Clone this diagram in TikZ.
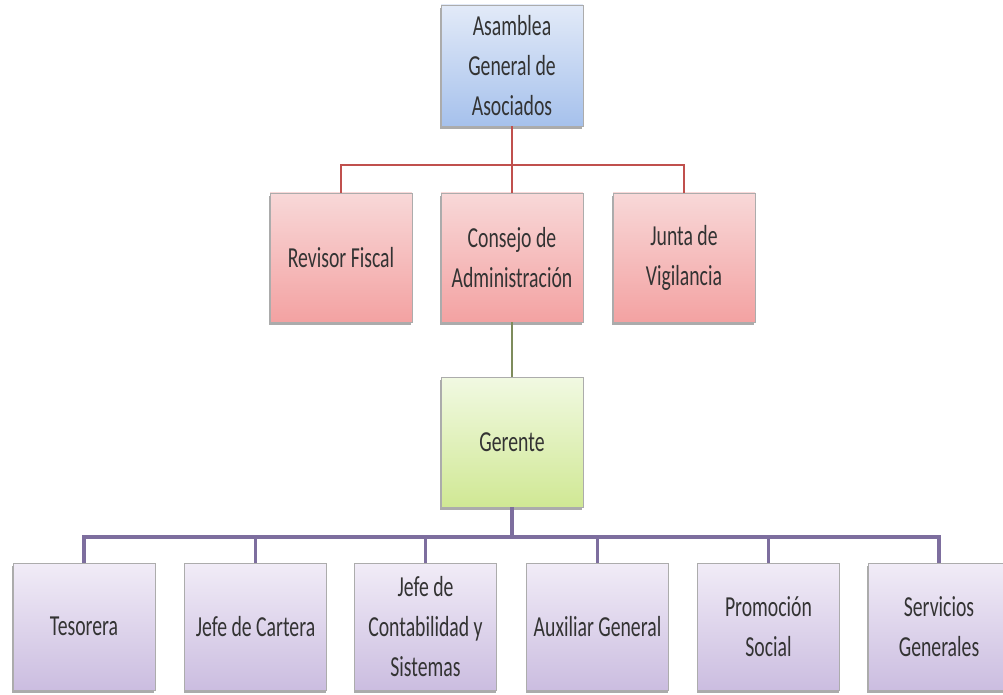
\documentclass[tikz,border=0pt]{standalone}
\usepackage{fontspec}
\setmainfont{Carlito}
\usetikzlibrary{shadows}
\definecolor{azulA}{HTML}{E2EAF8}
\definecolor{azulB}{HTML}{A6C1EC}
\definecolor{rojoA}{HTML}{F8D8D8}
\definecolor{rojoB}{HTML}{F3A2A2}
\definecolor{verdeA}{HTML}{F1F9E2}
\definecolor{verdeB}{HTML}{D0E894}
\definecolor{moradoA}{HTML}{F1ECF7}
\definecolor{moradoB}{HTML}{CBBDE0}
\definecolor{lrojo}{HTML}{C0504D}
\definecolor{lverde}{HTML}{7E8C5C}
\definecolor{lmorado}{HTML}{7D6E9E}
\tikzset{
  box/.style={draw=gray!65,line width=0.6pt,xscale=0.68,transform shape,
    minimum width=156.6pt,inner sep=0pt,align=center,text=black!80,
    font=\fontsize{21.75}{30}\selectfont,
    drop shadow={shadow xshift=-0.6pt,shadow yshift=-2.4pt,fill=black!55,opacity=0.6}},
  azul/.style={box,top color=azulA,bottom color=azulB,minimum height=90.75pt},
  rojo/.style={box,top color=rojoA,bottom color=rojoB,minimum height=96.75pt},
  verde/.style={box,top color=verdeA,bottom color=verdeB,minimum height=97.5pt},
  morado/.style={box,top color=moradoA,bottom color=moradoB,minimum height=95.25pt},
  linearoja/.style={draw=lrojo,line width=1.7pt},
  lineaverde/.style={draw=lverde,line width=1.3pt},
  lineamorada/.style={draw=lmorado,line width=2.4pt}
}
\begin{document}
\begin{tikzpicture}[x=0.75pt,y=-0.75pt]
    \useasboundingbox (0,0) rectangle (1003,695);
    \node[azul] (asamblea) at (512,65.5) {Asamblea\\General de\\Asociados};
    \node[rojo] (revisor) at (341,257.5) {Revisor Fiscal};
    \node[rojo] (consejo) at (512,257.5) {Consejo de\\Administración};
    \node[rojo] (junta) at (684,257.5) {Junta de\\Vigilancia};
    \node[verde] (gerente) at (512,442) {Gerente};
    \foreach \n/\x/\t in {tesorera/84/{Tesorera},cartera/255.5/{Jefe de Cartera},
      contabilidad/425.5/{Jefe de\\Contabilidad y\\Sistemas},auxiliar/597.5/{Auxiliar General},
      promocion/768.5/{Promoción\\Social},servicios/939/{Servicios\\Generales}}
      \node[morado] (\n) at (\x,626.5) {\t};
    \coordinate (bus1) at (512,165);
    \coordinate (bus2) at (512,537);
    \draw[linearoja] (asamblea.south)--(bus1);
    \foreach \n in {revisor,consejo,junta} \draw[linearoja] (bus1) -| (\n.north);
    \draw[lineaverde] (consejo.south)--(gerente.north);
    \draw[lineamorada] (gerente.south)--(bus2);
    \foreach \n in {tesorera,cartera,contabilidad,auxiliar,promocion,servicios}
      \draw[lineamorada] (bus2) -| (\n.north);
  \end{tikzpicture}
\end{document}
